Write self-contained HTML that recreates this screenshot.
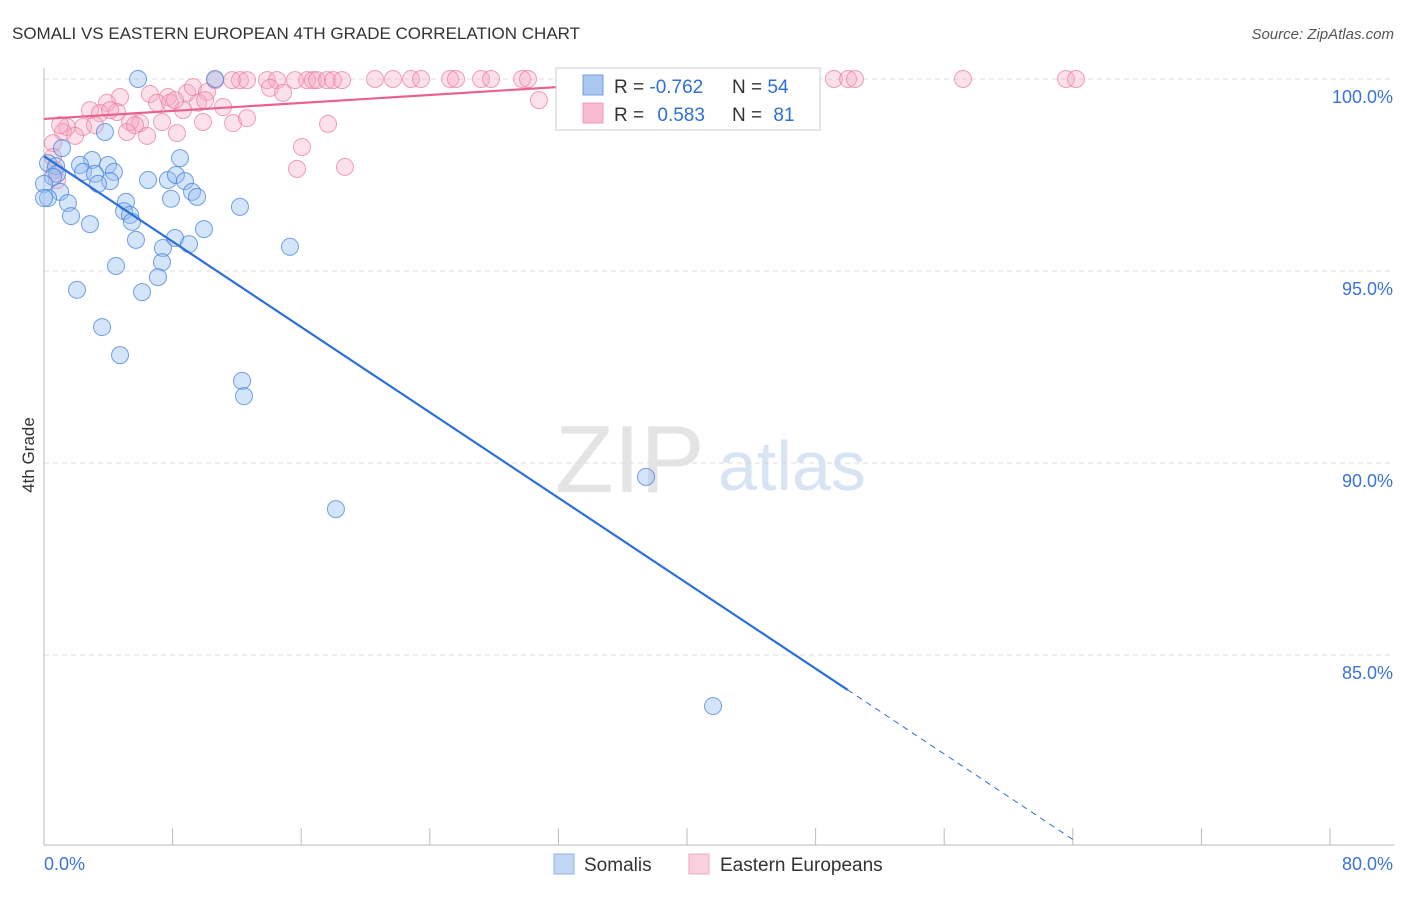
<!DOCTYPE html>
<html><head><meta charset="utf-8"><style>
body{margin:0;background:#fff;font-family:"Liberation Sans",sans-serif;}
svg text{font-family:"Liberation Sans",sans-serif;}
</style></head><body>
<svg id="c" width="1406" height="892" xmlns="http://www.w3.org/2000/svg">
<text x="12" y="39" font-size="17" fill="#333">SOMALI VS EASTERN EUROPEAN 4TH GRADE CORRELATION CHART</text>
<text x="1394" y="39" font-size="15" fill="#555" font-style="italic" text-anchor="end">Source: ZipAtlas.com</text>
<text x="34" y="455" font-size="17" fill="#333" text-anchor="middle" transform="rotate(-90 34 455)">4th Grade</text>
<text x="555" y="492" font-size="96" fill="#e4e4e4" font-family="Liberation Serif">ZIP</text>
<text x="718" y="490" font-size="70" fill="#d8e4f3">atlas</text>
<g id="grid"></g><g id="pts"></g><g id="lines"></g>
<g>
<rect x="556" y="68" width="264" height="62" fill="#fff" stroke="#ccc"/>
<rect x="583" y="75" width="20" height="20" fill="#a9c7ef" stroke="#6f9fe0"/>
<rect x="583" y="103" width="20" height="20" fill="#f8bcd0" stroke="#ef9ab6"/>
<text x="614" y="93" font-size="19" fill="#333">R = <tspan fill="#2f6fd6">-0.762</tspan></text>
<text x="732" y="93" font-size="19" fill="#333">N = <tspan fill="#2f6fd6">54</tspan></text>
<text x="614" y="121" font-size="19" fill="#333">R = <tspan fill="#2f6fd6" dx="8">0.583</tspan></text>
<text x="732" y="121" font-size="19" fill="#333">N = <tspan fill="#2f6fd6" dx="6">81</tspan></text>
</g>
<g>
<rect x="554" y="854" width="20" height="20" fill="#c2d7f3" stroke="#8fb3e6"/>
<text x="584" y="871" font-size="19" fill="#333">Somalis</text>
<rect x="689" y="854" width="20" height="20" fill="#fbd0de" stroke="#f0a6be"/>
<text x="720" y="871" font-size="19" fill="#333">Eastern Europeans</text>
</g>
</svg>
<script>
const xTicks=[0,8,16,24,32,40,48,56,64,72,80];
const yTicks=[100,95,90,85];
const yTickLabels=["100.0%","95.0%","90.0%","85.0%"];
const xEndLabels=["0.0%","80.0%"];
const somaliPx=[[138,79],[215,79],[105,132],[62,148],[92,160],[48,163],[56,166],[80,165],[108,165],[180,158],[57,174],[83,172],[95,174],[114,172],[110,181],[53,177],[44,184],[98,184],[148,180],[168,180],[176,175],[185,181],[192,192],[197,197],[171,199],[60,192],[48,198],[68,203],[126,202],[124,211],[130,215],[71,216],[132,222],[90,224],[240,207],[204,229],[136,240],[175,238],[189,244],[290,247],[163,248],[162,262],[116,266],[158,277],[77,290],[142,292],[102,327],[120,355],[242,381],[244,396],[646,477],[336,509],[713,706],[44,198]];
const easternPx=[[215,80],[232,80],[240,80],[247,80],[267,80],[277,80],[307,80],[313,80],[317,80],[327,80],[333,80],[342,80],[375,79],[393,79],[411,79],[421,79],[450,79],[456,79],[481,79],[491,79],[522,79],[528,79],[566,79],[600,79],[610,79],[618,79],[677,79],[803,79],[834,79],[848,79],[855,79],[963,79],[1066,79],[1076,79],[270,88],[283,93],[120,97],[150,94],[168,97],[187,93],[193,87],[207,92],[157,103],[170,103],[198,103],[223,107],[90,110],[107,103],[100,113],[117,112],[183,110],[130,122],[140,123],[162,122],[203,122],[233,123],[247,118],[67,127],[83,127],[63,132],[75,136],[127,132],[147,136],[177,133],[328,124],[302,147],[297,169],[345,167],[53,143],[53,157],[55,170],[57,180],[539,100],[583,97],[110,110],[135,125],[175,100],[60,125],[95,125],[205,100],[295,80]];
// convert reading positions to data values
const X0=44,PXX=16.075,Y0=79,PXY=38.4;
const somaliX=somaliPx.map(p=>+((p[0]-X0)/PXX).toFixed(2));
const somaliY=somaliPx.map(p=>+(100-(p[1]-Y0)/PXY).toFixed(2));
const easternX=easternPx.map(p=>+((p[0]-X0)/PXX).toFixed(2));
const easternY=easternPx.map(p=>+(100-(p[1]-Y0)/PXY).toFixed(2));
const somaliTrend=[97.99,-0.278]; const easternTrend=[98.96,0.026];
const sx=v=>X0+v*PXX, sy=v=>Y0+(100-v)*PXY;
const NS="http://www.w3.org/2000/svg";
function mk(t,a,p){const e=document.createElementNS(NS,t);for(const k in a)e.setAttribute(k,a[k]);p.appendChild(e);return e;}
const g=document.getElementById('grid');
yTicks.forEach((v,i)=>{
 const l=mk('line',{x1:44,x2:1394,y1:sy(v),y2:sy(v),stroke:'#ddd','stroke-dasharray':'5,4'},g);
 
 
 const t=mk('text',{x:1393,y:sy(v)+24,'font-size':18,fill:'#3b73d6','text-anchor':'end'},g);t.textContent=yTickLabels[i];
 
 
});
mk('line',{x1:44,x2:44,y1:68,y2:845,stroke:'#bbb'},g);
mk('line',{x1:44,x2:1394,y1:845,y2:845,stroke:'#bbb'},g);
xTicks.forEach(v=>{const l=mk('line',{x1:sx(v),x2:sx(v),y1:828,y2:845,stroke:'#bbb'},g);
 
 });
let t=mk('text',{x:44,y:870,'font-size':18,fill:'#3b73d6'},g);t.textContent=xEndLabels[0];


t=mk('text',{x:1393,y:870,'font-size':18,fill:'#3b73d6','text-anchor':'end'},g);t.textContent=xEndLabels[1];


const pg=document.getElementById('pts');
easternX.forEach((x,i)=>{const c=mk('circle',{cx:sx(x),cy:sy(easternY[i]),r:8.5,fill:'rgba(246,170,196,0.35)',stroke:'rgba(232,120,160,0.7)','stroke-width':1},pg);
 
 });
somaliX.forEach((x,i)=>{const c=mk('circle',{cx:sx(x),cy:sy(somaliY[i]),r:8.5,fill:'rgba(150,190,240,0.4)',stroke:'rgba(70,130,220,0.75)','stroke-width':1},pg);
 
 });
const lg=document.getElementById('lines');
const f=(tr,x)=>tr[0]+tr[1]*x;
let l=mk('line',{x1:sx(0),y1:sy(f(somaliTrend,0)),x2:sx(50),y2:sy(f(somaliTrend,50)),stroke:'#2c6fd8','stroke-width':2.2},lg);


l=mk('line',{x1:sx(50),y1:sy(f(somaliTrend,50)),x2:sx(64.1),y2:sy(f(somaliTrend,64.1)),stroke:'#2c6fd8','stroke-width':1,'stroke-dasharray':'6,5'},lg);


l=mk('line',{x1:sx(0),y1:sy(f(easternTrend,0)),x2:sx(38.5),y2:sy(f(easternTrend,38.5)),stroke:'#e8628e','stroke-width':2.2},lg);


</script>
</body></html>
